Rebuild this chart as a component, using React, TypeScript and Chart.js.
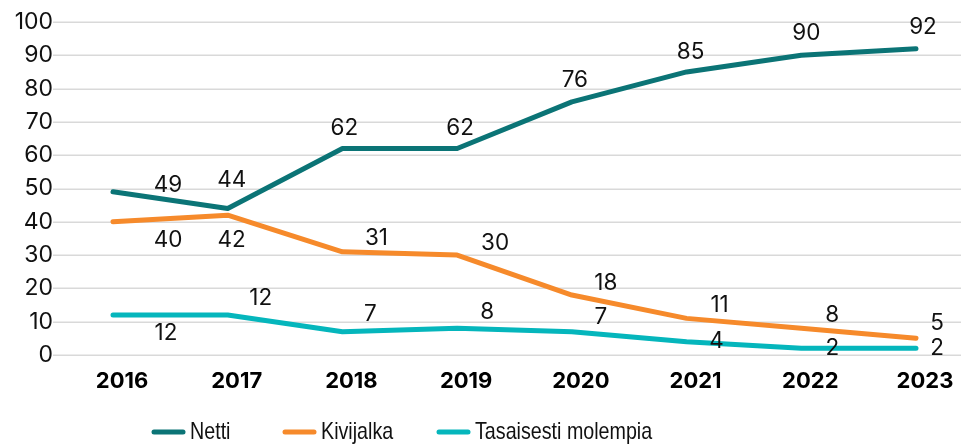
import React, { useEffect, useRef } from "react";
import { Chart, registerables } from "chart.js";

Chart.register(...registerables);

const categories = ["2016", "2017", "2018", "2019", "2020", "2021", "2022", "2023"];
const netti = [49, 44, 62, 62, 76, 85, 90, 92];
const kivijalka = [40, 42, 31, 30, 18, 11, 8, 5];
const tasaisesti = [12, 12, 7, 8, 7, 4, 2, 2];
const seriesNames = ["Netti", "Kivijalka", "Tasaisesti molempia"];
const seriesColors = ["#0B7476", "#F68A2B", "#05B6BC"];

// label placement offsets relative to each point (dx, dy)
const labelOffsets: number[][][] = [
  [[55, -7], [4, -28], [2, -20], [3, -20], [3, -22], [4, -20], [5, -22], [7, -21]],
  [[55, 18], [4, 25], [34, -14], [38, -12], [34, -12], [33, -13], [31, -13], [21, -15]],
  [[53, 18], [33, -17], [28, -17], [30, -16], [29, -14], [30, 0], [31, 0], [21, 0]],
];
const legendStarts = [152, 283, 437];

const FONT = "Inter, Roboto, 'Noto Sans', sans-serif";
const LEGEND_FONT = "'Liberation Sans', Arial, sans-serif";

const gridPlugin = {
  id: "customGrid",
  beforeDatasetsDraw(chart: any) {
    const ctx = chart.ctx;
    const y = chart.scales.y;
    ctx.save();
    ctx.strokeStyle = "#d9d9d9";
    ctx.lineWidth = 1.5;
    y.ticks.forEach((t: any) => {
      const py = Math.round(y.getPixelForValue(t.value)) + 0.25;
      ctx.beginPath();
      ctx.moveTo(chart.chartArea.left - 60, py);
      ctx.lineTo(chart.width, py);
      ctx.stroke();
    });
    ctx.restore();
  },
};

const labelPlugin = {
  id: "customLabels",
  afterDatasetsDraw(chart: any) {
    const ctx = chart.ctx;
    ctx.save();
    ctx.font = `22.5px ${FONT}`;
    ctx.fillStyle = "#111";
    ctx.textAlign = "center";
    ctx.textBaseline = "middle";
    chart.data.datasets.forEach((ds: any, i: number) => {
      const meta = chart.getDatasetMeta(i);
      meta.data.forEach((pt: any, j: number) => {
        const off = labelOffsets[i][j];
        ctx.fillText(String(ds.data[j]), pt.x + off[0], pt.y + off[1]);
      });
    });
    ctx.restore();
  },
};

const legendPlugin = {
  id: "customLegend",
  afterDraw(chart: any) {
    const ctx = chart.ctx;
    const y = 432;
    ctx.save();
    chart.data.datasets.forEach((ds: any, i: number) => {
      const x0 = legendStarts[i];
      ctx.strokeStyle = ds.borderColor;
      ctx.lineWidth = 5;
      ctx.lineCap = "round";
      ctx.beginPath();
      ctx.moveTo(x0 + 2, y);
      ctx.lineTo(x0 + 31, y);
      ctx.stroke();
      ctx.save();
      ctx.translate(x0 + 38, y);
      ctx.scale(0.82, 1);
      ctx.fillStyle = "#111";
      ctx.font = `24px ${LEGEND_FONT}`;
      ctx.textAlign = "left";
      ctx.textBaseline = "middle";
      ctx.fillText(ds.label, 0, 0);
      ctx.restore();
    });
    ctx.restore();
  },
};

export default function App() {
  const ref = useRef<HTMLCanvasElement>(null);
  useEffect(() => {
    if (!ref.current) return;
    const values = [netti, kivijalka, tasaisesti];
    const chart = new Chart(ref.current, {
      type: "line",
      data: {
        labels: categories,
        datasets: values.map((v, i) => ({
          label: seriesNames[i],
          data: v,
          borderColor: seriesColors[i],
          backgroundColor: seriesColors[i],
          borderWidth: 5,
          pointRadius: 0,
          borderCapStyle: "round",
          borderJoinStyle: "round",
          tension: 0,
          clip: false,
        })),
      },
      options: {
        responsive: false,
        animation: false,
        devicePixelRatio: 1,
        layout: { padding: { top: 22, right: 45, bottom: 0, left: 0 } },
        plugins: { legend: { display: false }, tooltip: { enabled: false } },
        scales: {
          x: {
            offset: false,
            grid: { display: false, drawTicks: false },
            border: { display: false },
            ticks: {
              color: "#000",
              font: { family: FONT, size: 22, weight: "bold" },
              padding: 13,
              labelOffset: 9,
              maxRotation: 0,
              autoSkip: false,
            },
            afterFit: (s: any) => {
              s.height = 89;
            },
          },
          y: {
            min: 0,
            max: 100,
            grid: { display: false, drawTicks: false },
            border: { display: false },
            ticks: {
              stepSize: 10,
              color: "#111",
              font: { family: FONT, size: 23 },
              padding: 60,
            },
            afterFit: (s: any) => {
              s.width = 113;
              s.paddingTop = 0;
              s.paddingBottom = 0;
            },
          },
        },
      },
      plugins: [gridPlugin, labelPlugin, legendPlugin],
    } as any);
    return () => chart.destroy();
  }, []);
  return (
    <div style={{ position: "fixed", left: 0, top: 0, width: 961, height: 444, background: "#fff" }}>
      <canvas ref={ref} width={961} height={444} style={{ display: "block" }} />
    </div>
  );
}
